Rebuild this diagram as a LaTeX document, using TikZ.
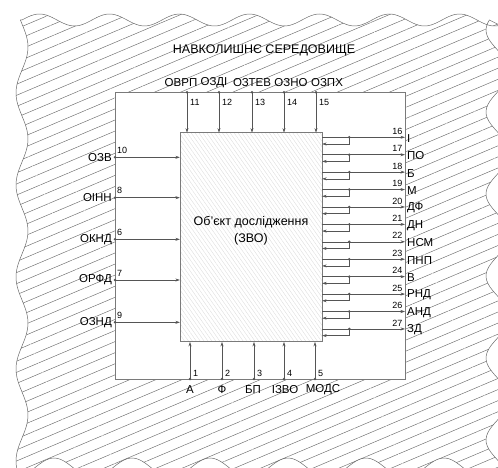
\documentclass[tikz,border=0pt]{standalone}
\usepackage{fontspec}
\setmainfont{Liberation Sans}
\usetikzlibrary{arrows.meta,positioning,calc,patterns.meta}
\definecolor{lineC}{HTML}{555555}
\definecolor{boxC}{HTML}{7A7A7A}
\definecolor{hatchC}{HTML}{6A6A6A}
\tikzset{
  envblob/.style={draw=hatchC, line width=0.5pt,
                  pattern={Lines[angle=23,distance=10.2pt,line width=0.45pt]}, pattern color=hatchC},
  sysbox/.style={rectangle, draw=boxC, fill=white, line width=0.8pt, inner sep=0pt,
                 minimum width=290pt, minimum height=287pt},
  objbox/.style={rectangle, draw=boxC, line width=0.8pt, inner sep=0pt,
                 pattern={Lines[angle=-55,distance=3.2pt,line width=0.3pt]}, pattern color=gray!30,
                 minimum width=142pt, minimum height=209pt},
  arr/.style={-{Stealth[length=4.5pt,width=3pt]}, line width=0.6pt, draw=lineC},
  lbl/.style={font=\fontsize{11.5}{13}\selectfont, inner sep=1pt},
  num/.style={font=\fontsize{9}{10}\selectfont, inner sep=1pt},
}

\begin{document}
\begin{tikzpicture}[x=1pt, y=-1pt]
  \useasboundingbox (0,0) rectangle (498,468);
  % environment (wavy outline)
  \path[envblob]
    plot[variable=\t, domain=22:500, samples=160] (\t, {20-6*sin(5.1429*(\t-22))})
    -- plot[variable=\t, domain=20:472, samples=140] ({498-12*cos(4.3902*(\t-112))}, \t)
    -- plot[variable=\t, domain=500:22, samples=160] (\t, {468+10*cos(4.6154*(\t-171))})
    -- plot[variable=\t, domain=472:20, samples=140] ({22-6*sin(3.9130*(\t-70))}, \t)
    -- cycle;
  \node[lbl, font=\fontsize{12.5}{14}\selectfont] (title) at (264,50) {НАВКОЛИШНЄ СЕРЕДОВИЩЕ};

  % system and object
  \node[sysbox] (sys) at (260,235.7) {};
  \node[objbox] (obj) at (251,237.3) {};
  \node[align=center, font=\fontsize{12.5}{17}\selectfont] (objtxt) at (251,230.5)
    {Об’єкт дослідження\\(ЗВО)};

  % top inputs
  \foreach \x/\lx/\n/\t [count=\i] in {187/181/11/ОВРП, 219/214/12/ОЗДІ, 252/252/13/ОЗТЕВ,
                                       284/291/14/ОЗНО, 316/327/15/ОЗПХ} {
    \coordinate (top\i) at (\x,92.3);
    \node[lbl] (tl\i) at (\lx,83) {\t};
    \node[num, anchor=west] (tn\i) at (\x+2,102) {\n};
    \draw[arr] (top\i) -- (top\i |- obj.north);
    \fill[lineC] (top\i) circle (1.4);
  }

  % bottom inputs
  \foreach \x/\lx/\n/\t [count=\i] in {190/190/1/А, 222/222/2/Ф, 254/253/3/БП,
                                       284/285/4/ІЗВО, 315/323/5/МОДС} {
    \coordinate (bot\i) at (\x,379);
    \node[lbl] (bl\i) at (\lx,390) {\t};
    \node[num, anchor=west] (bn\i) at (\x+2,373) {\n};
    \draw[arr] (bot\i) -- (bot\i |- obj.south);
    \fill[lineC] (bot\i) circle (1.4);
  }

  % left inputs
  \foreach \y/\n/\t [count=\i] in {157.3/10/ОЗВ, 197.7/8/ОІНН, 239.3/6/ОКНД,
                                   280/7/ОРФД, 322.3/9/ОЗНД} {
    \coordinate (in\i) at (115,\y);
    \node[lbl, anchor=east] (ll\i) at (113,\y) {\t};
    \node[num, anchor=west] (ln\i) at (116,\y-7) {\n};
    \draw[arr] (in\i) -- (in\i -| obj.west);
    \fill[lineC] (in\i) circle (1.4);
  }

  % outputs with feedback
  \foreach \n/\t [count=\i] in {16/І, 17/ПО, 18/Б, 19/М, 20/ДФ, 21/ДН,
                                22/НСМ, 23/ПНП, 24/В, 25/РНД, 26/АНД, 27/ЗД} {
    \pgfmathsetmacro\yy{137.3+17.42*(\i-1)}
    \coordinate (out\i) at (405,\yy);
    \coordinate (fb\i) at (349.3,\yy);
    \node[lbl, anchor=west] (rl\i) at (406,\yy+1) {\t};
    \node[num, anchor=east] (rn\i) at (403.5,\yy-6) {\n};
    \draw[arr] (obj.east |- out\i) -- (out\i);
    \draw[arr] (fb\i) |- ($(obj.east |- fb\i)+(0,6.7)$);
    \fill[lineC] (fb\i) circle (1.4);
  }
\end{tikzpicture}
\end{document}
